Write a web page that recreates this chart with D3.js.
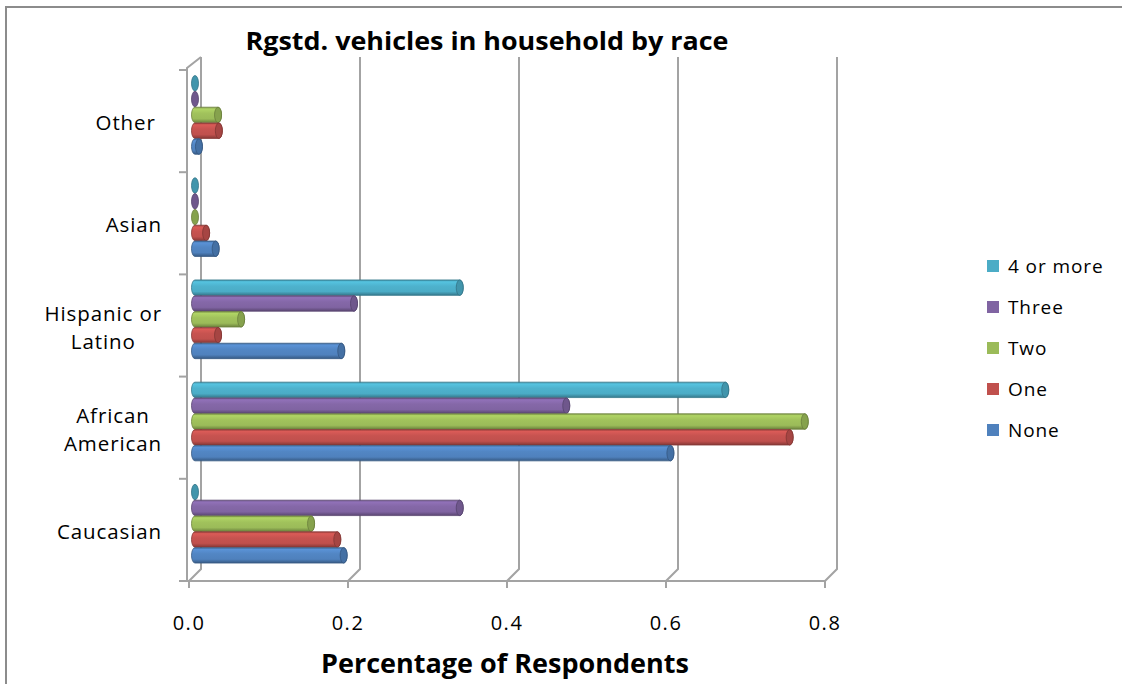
<!DOCTYPE html>
<html>
<head>
<meta charset="utf-8">
<script src="https://cdn.jsdelivr.net/npm/d3@7/dist/d3.min.js"></script>
<style>
  html, body { margin: 0; padding: 0; background: #fff; }
  svg { display: block; }
  text { font-family: "Open Sans", "DejaVu Sans", sans-serif; fill: #000; white-space: pre; }
</style>
</head>
<body>
<div id="chart"></div>
<script>
// Share of respondents in each race group, by number of registered vehicles
const categories = ["Caucasian", "African American", "Hispanic or Latino", "Asian", "Other"];
const categoryLines = [["Caucasian"], ["African", "American"], ["Hispanic or", "Latino"], ["Asian"], ["Other "]];
const seriesNames = ["None", "One", "Two", "Three", "4 or more"];
const seriesColors = ["#4F81BD", "#C0504D", "#9BBB59", "#8064A2", "#4BACC6"];
const noneValues     = [0.187, 0.598, 0.184, 0.026, 0.005];
const oneValues      = [0.179, 0.748, 0.029, 0.014, 0.030];
const twoValues      = [0.146, 0.767, 0.058, 0.000, 0.029];
const threeValues    = [0.333, 0.467, 0.200, 0.000, 0.000];
const fourPlusValues = [0.000, 0.667, 0.333, 0.000, 0.000];
const xTickValues = [0, 0.2, 0.4, 0.6, 0.8];
const xTickLabels = ["0.0", "0.2", "0.4", "0.6", "0.8"];
const chartTitle = "Rgstd. vehicles in household by race";
const xAxisTitle = "Percentage of Respondents";

const seriesValues = [noneValues, oneValues, twoValues, threeValues, fourPlusValues];

const W = 1122, H = 684;
const svg = d3.select("#chart").append("svg").attr("width", W).attr("height", H);

// outer chart frame (only top and left edges fall inside the page)
svg.append("path")
  .attr("d", `M6,${H + 2}V7H${W + 2}`)
  .attr("fill", "none").attr("stroke", "#8c8c8c").attr("stroke-width", 2);

// 3D projection: front plane + depth offset toward the back wall
const depth = { dx: 12, dy: -12 };
const x = d3.scaleLinear().domain([0, 0.8]).range([189, 825]);
const y = d3.scaleBand().domain(categories).range([581, 70]);
const yInnerPad = y.bandwidth() * 0.113;
const ySeries = d3.scaleBand().domain(seriesNames.slice().reverse())
  .range([yInnerPad, y.bandwidth() - yInnerPad]);

const frontTop = 70, frontBottom = 581;
const gridColor = "#a3a3a3";
const walls = svg.append("g").attr("fill", "none").attr("stroke", gridColor).attr("stroke-width", 2);

// back-wall gridlines folding down onto the floor
xTickValues.forEach(v => {
  const xf = x(v), xb = x(v) + depth.dx;
  walls.append("path")
    .attr("d", `M${xb},${frontTop + depth.dy - 1}V${frontBottom + depth.dy}L${xf},${frontBottom}`);
});
// floor front edge
walls.append("line").attr("x1", x(0) - 2).attr("x2", x(0.8)).attr("y1", frontBottom).attr("y2", frontBottom);
// left wall front edge and its top fold
walls.append("path")
  .attr("d", `M${x(0) - 2},${frontBottom}V${frontTop - 2}L${x(0) + depth.dx},${frontTop + depth.dy - 1}`);

// value axis ticks
walls.selectAll(".xt").data(xTickValues).join("line")
  .attr("x1", d => x(d)).attr("x2", d => x(d))
  .attr("y1", frontBottom).attr("y2", frontBottom + 7);
// category axis ticks at band boundaries
const boundaries = categories.map(c => y(c)).concat([frontBottom]);
walls.selectAll(".yt").data(boundaries).join("line")
  .attr("x1", x(0) - 10).attr("x2", x(0) - 2)
  .attr("y1", d => d).attr("y2", d => d);

// cylinder shading per series
const defs = svg.append("defs");
seriesColors.forEach((c, i) => {
  const base = d3.color(c);
  const g = defs.append("linearGradient").attr("id", "cyl" + i)
    .attr("x1", 0).attr("y1", 0).attr("x2", 0).attr("y2", 1);
  [[0, base.darker(0.5)], [0.12, base.brighter(0.35)], [0.4, base.brighter(0.1)],
   [0.75, base], [1, base.darker(1)]].forEach(([o, col]) => {
    g.append("stop").attr("offset", o).attr("stop-color", col.formatHex());
  });
});

// horizontal cylinders drawn at mid depth
const mid = { dx: depth.dx / 2, dy: depth.dy / 2 };
const rx = 3.5;
const bars = svg.append("g");
const barData = [];
categories.forEach((cat, ci) => {
  seriesNames.slice().reverse().forEach(s => {
    const si = seriesNames.indexOf(s);
    barData.push({ cat, si, s, v: seriesValues[si][ci] });
  });
});
barData.forEach(d => {
  const x0 = x(0) + mid.dx, x1 = x(d.v) + mid.dx;
  const top = y(d.cat) + ySeries(d.s) + mid.dy;
  const h = ySeries.bandwidth() - 0.4, ry = h / 2;
  const base = d3.color(seriesColors[d.si]);
  const g = bars.append("g");
  if (x1 - x0 > 0.5) {
    g.append("path")
      .attr("d", `M${x0},${top}L${x1},${top}A${rx},${ry} 0 0 1 ${x1},${top + h}L${x0},${top + h}A${rx},${ry} 0 0 1 ${x0},${top}Z`)
      .attr("fill", `url(#cyl${d.si})`)
      .attr("stroke", base.darker(1).formatHex()).attr("stroke-width", 0.8);
  }
  g.append("ellipse")
    .attr("cx", x1).attr("cy", top + ry).attr("rx", rx).attr("ry", ry)
    .attr("fill", base.darker(0.4).formatHex())
    .attr("stroke", base.darker(1.1).formatHex()).attr("stroke-width", 0.8);
});

// category labels: right-aligned blocks, wrapped lines centered within each block
const labelRight = 162, lineH = 28;
categories.forEach((cat, ci) => {
  const lines = categoryLines[ci];
  const cy = y(cat) + y.bandwidth() / 2 + 1;
  const g = svg.append("g");
  const texts = lines.map((ln, li) => g.append("text")
    .attr("y", cy + (li - (lines.length - 1) / 2) * lineH)
    .attr("dominant-baseline", "central")
    .attr("text-anchor", "middle")
    .attr("font-size", 20.5).attr("letter-spacing", 0.9)
    .text(ln));
  const maxW = d3.max(texts, t => t.node().getComputedTextLength());
  texts.forEach(t => t.attr("x", labelRight - maxW / 2));
});

// value axis labels
svg.selectAll(".xl").data(xTickValues).join("text")
  .attr("x", d => x(d)).attr("y", 622)
  .attr("text-anchor", "middle").attr("dominant-baseline", "central")
  .attr("font-size", 20).attr("letter-spacing", 1.5)
  .text((d, i) => xTickLabels[i]);

// titles
svg.append("text")
  .attr("x", 487).attr("y", 40)
  .attr("text-anchor", "middle").attr("dominant-baseline", "central")
  .attr("font-size", 25).attr("font-weight", "bold")
  .attr("textLength", 483).attr("lengthAdjust", "spacingAndGlyphs")
  .text(chartTitle);
svg.append("text")
  .attr("x", 505).attr("y", 662)
  .attr("text-anchor", "middle").attr("dominant-baseline", "central")
  .attr("font-size", 27).attr("font-weight", "bold")
  .text(xAxisTitle);

// legend, top entry is the last series
const legend = svg.append("g");
seriesNames.slice().reverse().forEach((s, i) => {
  const si = seriesNames.indexOf(s);
  const cy = 266 + i * 41;
  legend.append("rect").attr("x", 987).attr("y", cy - 6).attr("width", 12).attr("height", 12)
    .attr("fill", seriesColors[si]);
  legend.append("text").attr("x", 1008).attr("y", cy)
    .attr("dominant-baseline", "central")
    .attr("font-size", 19).attr("letter-spacing", 0.9)
    .text(s);
});
</script>
</body>
</html>
